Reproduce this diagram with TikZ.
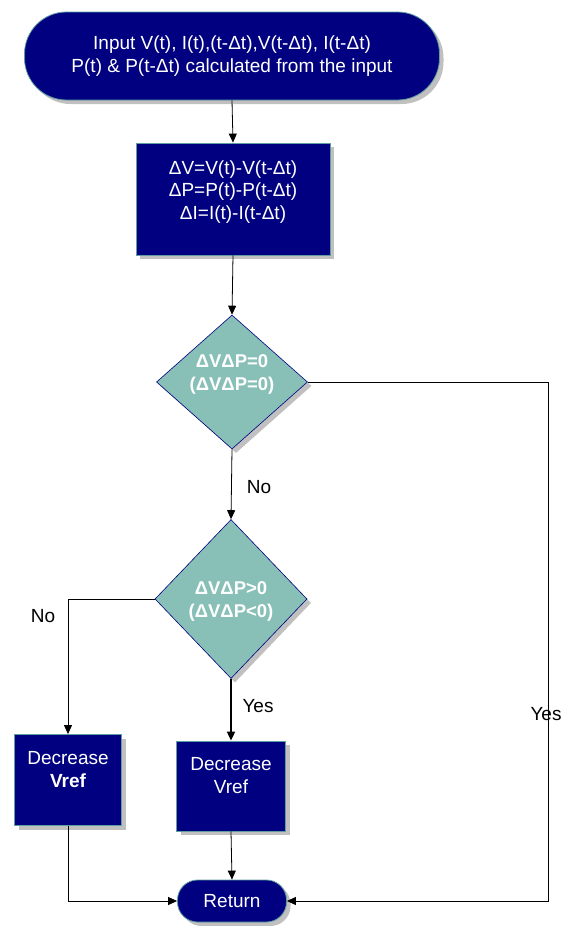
\documentclass[tikz,border=0pt]{standalone}
\usepackage{fontspec}
\setmainfont{Liberation Sans}
\usetikzlibrary{arrows.meta,shapes.geometric,shadows}
\definecolor{navy}{HTML}{000080}
\definecolor{teal1}{HTML}{88C0B8}
\definecolor{edge}{HTML}{5F9EA0}
\definecolor{shad}{HTML}{C0C0C0}
\begin{document}
\begin{tikzpicture}[x=1pt,y=-1pt,
  shd/.style={drop shadow={shadow xshift=4pt,shadow yshift=-4pt,fill=shad,opacity=1}},
  term/.style={shd,fill=navy,draw=edge,line width=0.8pt,text=white,align=center,inner sep=0pt},
  procbox/.style={shd,fill=navy,draw=edge,line width=0.8pt,inner sep=0pt},
  dec/.style={shd,diamond,fill=teal1,draw=navy,line width=0.6pt,inner sep=0pt},
  wtext/.style={text=white,align=center,font=\fontsize{19}{23}\selectfont},
  dtext/.style={text=white,align=center,font=\bfseries\fontsize{18.5}{23}\selectfont},
  lab/.style={font=\fontsize{19}{20}\selectfont},
  arr/.style={-{Triangle[length=9pt,width=8pt]},line width=0.8pt},
]
\useasboundingbox (0,0) rectangle (568,926);
\node[term,minimum width=415pt,minimum height=88pt,rounded corners=42pt,font=\fontsize{19}{23}\selectfont] (start) at (232,56)
  {Input V(t), I(t),(t-Δt),V(t-Δt), I(t-Δt)\\P(t) \& P(t-Δt) calculated from the input};
\node[procbox,minimum width=194pt,minimum height=112pt] (b1) at (233,199) {};
\node[wtext,font=\fontsize{19}{22.5}\selectfont] (b1t) at (233,192) {ΔV=V(t)-V(t-Δt)\\ΔP=P(t)-P(t-Δt)\\ΔI=I(t)-I(t-Δt)};
\node[dec,minimum width=151pt,minimum height=134pt] (d1) at (232,382) {};
\node[dtext] (d1t) at (232,374) {ΔVΔP=0\\(ΔVΔP=0)};
\node[dec,minimum width=152pt,minimum height=159pt] (d2) at (231,599) {};
\node[dtext] (d2t) at (231,601) {ΔVΔP>0\\(ΔVΔP<0)};
\node[procbox,minimum width=107pt,minimum height=91pt] (b3) at (68,780) {};
\node[wtext] (b3t) at (68,770) {Decrease\\\textbf{Vref}};
\node[procbox,minimum width=109pt,minimum height=90pt] (b4) at (231,786) {};
\node[wtext] (b4t) at (231,776) {Decrease\\Vref};
\node[term,minimum width=109pt,minimum height=42pt,rounded corners=20pt,font=\fontsize{19}{20}\selectfont] (ret) at (232,901) {Return};
\coordinate (yc) at (548,382);
\draw[arr] (start.south) -- (b1.north);
\draw[arr] (b1.south) -- (d1.north);
\draw[arr] (d1.south) -- (d2.north);
\draw[arr] (d1.east) -- (yc) |- (ret.east);
\draw[arr] (d2.west) -| (b3.north);
\draw[arr,line width=1.8pt] (d2.south) -- (b4.north);
\draw[arr] (b4.south) -- (ret.north);
\draw[arr] (b3.south) |- (ret.west);
\node[lab] (lno1) at (259,487) {No};
\node[lab] (lno2) at (43,616) {No};
\node[lab] (lyes1) at (258,706) {Yes};
\node[lab] (lyes2) at (546,714) {Yes};
\end{tikzpicture}
\end{document}
